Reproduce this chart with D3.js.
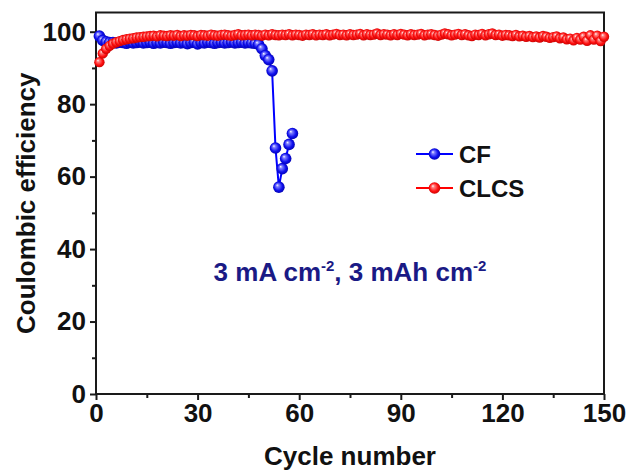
<!DOCTYPE html>
<html>
<head>
<meta charset="utf-8">
<script src="https://cdn.jsdelivr.net/npm/d3@7"></script>
<style>
html,body{margin:0;padding:0;background:#fff;}
svg{display:block;}
text{font-family:"Liberation Sans",Arial,sans-serif;font-weight:bold;}
</style>
</head>
<body>
<script>
// ---- data ----
const xTicks = [0, 30, 60, 90, 120, 150];
const yTicks = [0, 20, 40, 60, 80, 100];
const seriesNames = ["CF", "CLCS"];

const cfCycles = d3.range(1, 59);
const cfValues = [
  98.8, 97.6, 97.2, 97.0,
  97.0, 96.9, 97.1, 97.0, 96.8, 97.1, 96.9, 97.0, 97.2, 96.9,
  97.0, 97.1, 96.8, 97.0, 96.9, 97.1, 97.0, 96.8, 97.0, 97.1,
  96.9, 97.0, 96.7, 97.0, 97.1, 96.6, 97.0, 96.9, 97.1, 97.0,
  96.8, 97.0, 97.1, 96.9, 97.0, 97.2, 96.9, 97.0, 97.1, 96.9,
  97.0, 96.9,
  96.8, 96.5, 95.3, 93.4, 92.3, 89.2, 67.9, 57.1, 62.2, 65.0, 68.9, 71.9
];

const clcsCycles = d3.range(1, 151);
const clcsValues = [
  91.6, 94.0, 95.3, 96.1, 96.7, 97.1, 97.4, 97.7, 97.9, 98.1,
  98.2, 98.4, 98.5, 98.6, 98.7,
  98.8, 98.9, 98.7, 99.0, 98.9, 98.8, 99.0, 98.9, 99.1, 98.8,
  99.0, 98.9, 99.1, 99.0, 98.8, 99.1, 99.0, 98.9, 99.2, 99.0,
  98.9, 99.1, 99.2, 99.0, 98.9, 99.1, 99.3, 99.0, 99.1, 99.2,
  99.0, 99.2, 99.1, 98.9, 99.2, 99.0, 99.3, 99.1, 99.0, 99.2,
  99.1, 99.3, 99.0, 99.2, 99.1, 98.9, 99.2, 99.1, 99.3, 99.0,
  99.2, 99.1, 99.3, 99.0, 99.2, 99.4, 99.1, 99.2, 99.0, 99.3,
  99.1, 99.2, 99.4, 99.0, 99.3, 99.1, 99.2, 99.5, 99.1, 99.3,
  99.2, 99.0, 99.3, 99.1, 99.4, 99.2, 99.0, 99.3, 99.1, 99.2,
  99.4, 99.0, 99.2, 99.3, 99.1, 98.9, 99.2, 99.5, 99.3, 99.0,
  99.2, 99.4, 99.1, 99.3, 99.0, 98.8, 99.2, 99.1, 99.4, 99.0,
  99.3, 99.5, 99.1, 99.2, 98.9, 99.1, 99.0, 98.8, 99.1, 98.7,
  98.9, 98.6, 98.8, 98.5, 98.7, 98.4, 98.8, 98.6, 98.3, 98.5,
  98.7, 98.2, 98.4, 97.9, 98.1, 97.6, 98.3, 97.8, 98.6, 97.5,
  99.0, 97.8, 98.9, 97.4, 98.6
];

// ---- layout ----
const W = 628, H = 472;
const L = 96, R = 604, T = 12.5, B = 394;

const svg = d3.select("body").append("svg").attr("width", W).attr("height", H);

const x = d3.scaleLinear().domain([0, 150]).range([L, R]);
const y = d3.scaleLinear().domain([0, 105.3]).range([B, T]);

// gradients
const defs = svg.append("defs");
function grad(id, base, light, dark) {
  const g = defs.append("radialGradient").attr("id", id)
    .attr("cx", "50%").attr("cy", "50%").attr("r", "55%")
    .attr("fx", "35%").attr("fy", "32%");
  g.append("stop").attr("offset", "0%").attr("stop-color", "#ffffff");
  g.append("stop").attr("offset", "22%").attr("stop-color", light);
  g.append("stop").attr("offset", "65%").attr("stop-color", base);
  g.append("stop").attr("offset", "100%").attr("stop-color", dark);
}
grad("gBlue", "#1010ee", "#8080ff", "#0000a8");
grad("gRed", "#ff1010", "#ff8080", "#c00000");

// axes
const axisColor = "#1a1a1a";
const xAxis = svg.append("g").attr("transform", `translate(0,${B})`)
  .call(d3.axisBottom(x).tickValues(xTicks).tickSize(6).tickPadding(4).tickFormat(d3.format("d")));
const xMinor = svg.append("g").attr("transform", `translate(0,${B})`)
  .call(d3.axisBottom(x).tickValues([15, 45, 75, 105, 135]).tickSize(4).tickFormat(""));
const yAxis = svg.append("g").attr("transform", `translate(${L},0)`)
  .call(d3.axisLeft(y).tickValues(yTicks).tickSize(6).tickPadding(4).tickFormat(d3.format("d")));
const yMinor = svg.append("g").attr("transform", `translate(${L},0)`)
  .call(d3.axisLeft(y).tickValues([10, 30, 50, 70, 90]).tickSize(4).tickFormat(""));

[xAxis, xMinor, yAxis, yMinor].forEach(g => {
  g.select(".domain").remove();
  g.selectAll("line").attr("stroke", axisColor).attr("stroke-width", 2);
  g.selectAll("text").attr("fill", "#111").style("font-size", "26px")
   .style("font-family", '"Liberation Sans",Arial,sans-serif').style("font-weight", "bold");
});

// frame
svg.append("rect").attr("x", L).attr("y", T).attr("width", R - L).attr("height", B - T)
  .attr("fill", "none").attr("stroke", axisColor).attr("stroke-width", 2);

// axis titles
svg.append("text").attr("x", (L + R) / 2).attr("y", 465).attr("text-anchor", "middle")
  .style("font-size", "26px").attr("fill", "#111").text("Cycle number");
svg.append("text").attr("transform", `translate(35,${(T + B) / 2}) rotate(-90)`)
  .attr("text-anchor", "middle").style("font-size", "26px").attr("fill", "#111")
  .text("Coulombic efficiency");

// series
const cfData = cfCycles.map((c, i) => ({c, v: cfValues[i]}));
const clcsData = clcsCycles.map((c, i) => ({c, v: clcsValues[i]}));
const line = d3.line().x(d => x(d.c)).y(d => y(d.v));

const plot = svg.append("g");
plot.append("path").datum(cfData).attr("d", line).attr("fill", "none")
  .attr("stroke", "#0000ff").attr("stroke-width", 2);
plot.selectAll(".cf").data(cfData).enter().append("circle").attr("class", "cf")
  .attr("cx", d => x(d.c)).attr("cy", d => y(d.v)).attr("r", 5.8).attr("fill", "url(#gBlue)");

plot.append("path").datum(clcsData).attr("d", line).attr("fill", "none")
  .attr("stroke", "#ff0000").attr("stroke-width", 2);
plot.selectAll(".cl").data(clcsData).enter().append("circle").attr("class", "cl")
  .attr("cx", d => x(d.c)).attr("cy", d => y(d.v)).attr("r", 5.2).attr("fill", "url(#gRed)");

// legend
const legend = svg.append("g");
const legColors = ["#0000ff", "#ff0000"];
const legGrad = ["url(#gBlue)", "url(#gRed)"];
seriesNames.forEach((name, i) => {
  const ly = 154 + i * 34;
  legend.append("line").attr("x1", 416).attr("x2", 453).attr("y1", ly).attr("y2", ly)
    .attr("stroke", legColors[i]).attr("stroke-width", 2);
  legend.append("circle").attr("cx", 434.5).attr("cy", ly).attr("r", 5.8).attr("fill", legGrad[i]);
  legend.append("text").attr("x", 459).attr("y", ly + 8.5).style("font-size", "24px")
    .attr("fill", "#111").text(name);
});

// annotation
const ann = svg.append("text").attr("x", 350).attr("y", 281).attr("text-anchor", "middle")
  .style("font-size", "26px").attr("fill", "#1a1a85");
ann.append("tspan").text("3 mA cm");
ann.append("tspan").attr("dy", -10).style("font-size", "15px").text("-2");
ann.append("tspan").attr("dy", 10).text(", 3 mAh cm");
ann.append("tspan").attr("dy", -10).style("font-size", "15px").text("-2");
</script>
</body>
</html>
